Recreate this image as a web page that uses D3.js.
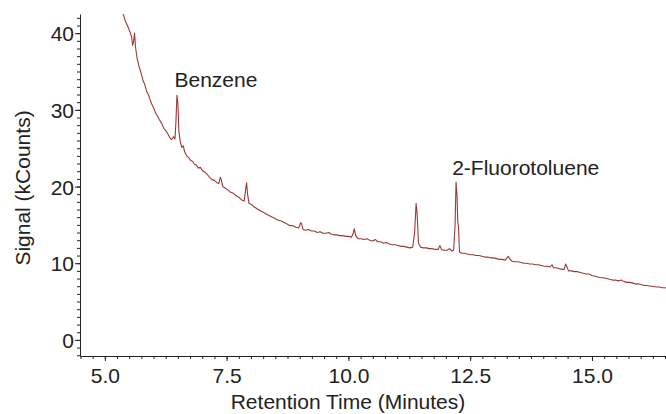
<!DOCTYPE html>
<html>
<head>
<meta charset="utf-8">
<script src="https://cdn.jsdelivr.net/npm/d3@7"></script>
<style>
  body { margin: 0; background: #fff; }
  text { font-family: "Liberation Sans", Arial, sans-serif; fill: #222; }
</style>
</head>
<body>
<svg id="chart"></svg>
<script>
// chromatogram trace (minutes, kCounts)
const times = [5.30, 5.37, 5.42, 5.47, 5.52, 5.55, 5.57, 5.59, 5.61, 5.63, 5.66, 5.70, 5.74, 5.78, 5.82, 5.86, 5.90, 5.93, 5.96, 6.00,
  6.04, 6.08, 6.12, 6.17, 6.21, 6.25, 6.29, 6.33, 6.37, 6.41, 6.44, 6.46, 6.48, 6.50, 6.52, 6.55, 6.58, 6.61, 6.64, 6.68,
  6.72, 6.76, 6.80, 6.84, 6.88, 6.92, 6.96, 7.00, 7.05, 7.10, 7.15, 7.20, 7.25, 7.30, 7.34, 7.37, 7.39, 7.42, 7.47, 7.52,
  7.57, 7.62, 7.67, 7.72, 7.77, 7.82, 7.86, 7.89, 7.91, 7.93, 7.96, 8.00, 8.05, 8.10, 8.15, 8.20, 8.26, 8.32, 8.38, 8.44,
  8.50, 8.56, 8.62, 8.68, 8.74, 8.80, 8.86, 8.92, 8.98, 9.02, 9.04, 9.07, 9.12, 9.18, 9.24, 9.30, 9.36, 9.42, 9.48, 9.54,
  9.60, 9.64, 9.70, 9.76, 9.82, 9.88, 9.94, 10.00, 10.06, 10.10, 10.12, 10.15, 10.20, 10.26, 10.32, 10.38, 10.44, 10.50, 10.55, 10.60,
  10.66, 10.72, 10.78, 10.84, 10.90, 10.96, 11.02, 11.08, 11.14, 11.20, 11.26, 11.32, 11.36, 11.39, 11.41, 11.44, 11.48, 11.54, 11.60, 11.66,
  11.72, 11.78, 11.84, 11.88, 11.91, 11.96, 12.02, 12.08, 12.12, 12.16, 12.19, 12.21, 12.23, 12.245, 12.26, 12.28, 12.32, 12.38, 12.44, 12.50,
  12.56, 12.62, 12.68, 12.74, 12.80, 12.86, 12.92, 12.98, 13.04, 13.10, 13.16, 13.22, 13.28, 13.31, 13.35, 13.42, 13.48, 13.54, 13.60, 13.66,
  13.72, 13.78, 13.84, 13.90, 13.96, 14.02, 14.08, 14.14, 14.18, 14.21, 14.26, 14.32, 14.38, 14.43, 14.46, 14.48, 14.52, 14.58, 14.64, 14.70,
  14.76, 14.82, 14.88, 14.94, 15.00, 15.06, 15.12, 15.18, 15.24, 15.30, 15.36, 15.42, 15.48, 15.54, 15.60, 15.66, 15.72, 15.78, 15.84, 15.90,
  15.96, 16.02, 16.08, 16.14, 16.20, 16.26, 16.32, 16.38, 16.44, 16.50, 16.56];
const signal = [44.5, 42.6, 41.6, 40.9, 40.1, 39.5, 38.4, 38.9, 40.0, 38.2, 36.8, 35.7, 34.9, 33.9, 33.3, 32.4, 31.9, 31.3, 30.8, 30.3,
  29.6, 29.2, 28.7, 28.2, 27.6, 27.3, 26.9, 26.4, 26.1, 26.5, 26.2, 28.5, 31.9, 30.8, 27.2, 25.8, 25.1, 25.3, 24.5, 24.0,
  23.8, 23.4, 23.3, 22.9, 22.8, 22.4, 22.5, 22.1, 21.9, 21.6, 21.2, 20.9, 20.8, 20.5, 20.4, 21.2, 20.9, 20.0, 19.8, 19.6,
  19.3, 19.2, 18.9, 18.7, 18.5, 18.2, 18.1, 19.6, 20.5, 19.0, 17.8, 17.7, 17.4, 17.2, 17.0, 16.8, 16.6, 16.4, 16.2, 16.0,
  15.8, 15.6, 15.5, 15.3, 15.1, 14.9, 14.9, 14.7, 14.6, 15.3, 15.1, 14.4, 14.3, 14.4, 14.2, 14.2, 14.0, 14.1, 13.9, 13.9,
  14.0, 13.8, 13.7, 13.7, 13.6, 13.6, 13.5, 13.5, 13.4, 13.9, 14.5, 13.6, 13.2, 13.2, 13.1, 13.2, 13.0, 12.9, 13.1, 12.8,
  12.8, 12.6, 12.7, 12.5, 12.4, 12.4, 12.3, 12.2, 12.2, 12.1, 12.0, 12.1, 14.0, 17.8, 16.5, 12.6, 12.1, 12.0, 12.0, 11.9,
  11.9, 11.8, 11.8, 12.3, 11.8, 11.7, 11.7, 11.9, 11.6, 11.7, 15.0, 20.6, 18.8, 15.4, 14.8, 11.5, 11.3, 11.3, 11.2, 11.1,
  11.1, 11.0, 11.0, 10.9, 10.8, 10.8, 10.7, 10.7, 10.6, 10.5, 10.5, 10.4, 10.9, 10.6, 10.3, 10.2, 10.2, 10.1, 10.0, 10.0,
  9.9, 9.9, 9.8, 9.8, 9.7, 9.6, 9.6, 9.5, 9.8, 9.4, 9.4, 9.3, 9.2, 9.2, 9.9, 9.6, 9.0, 9.0, 8.9, 8.9,
  8.8, 8.7, 8.6, 8.6, 8.4, 8.3, 8.2, 8.1, 8.1, 8.0, 7.9, 7.8, 7.8, 7.7, 7.8, 7.6, 7.5, 7.5, 7.4, 7.3,
  7.3, 7.2, 7.1, 7.1, 7.0, 7.0, 6.9, 6.9, 6.8, 6.8, 6.7];

const xTicks = [5.0, 7.5, 10.0, 12.5, 15.0];
const yTicks = [0, 10, 20, 30, 40];
const peakNames = ["Benzene", "2-Fluorotoluene"];
const peakLabelAt = [[6.43, 33.0], [12.13, 21.5]];

// layout
const width = 666;
const height = 414;
const margin = {top: 14, right: 0, bottom: 58, left: 80};
const innerW = width - margin.left - margin.right;
const innerH = height - margin.top - margin.bottom;

const svg = d3.select('#chart')
    .attr('width', width)
    .attr('height', height);

const g = svg.append('g')
    .attr('transform', 'translate(' + margin.left + ',' + margin.top + ')');

const x = d3.scaleLinear().domain([4.49, 16.52]).range([0, innerW]);
const y = d3.scaleLinear().domain([-2.1, 42.5]).range([innerH, 0]);

g.append('clipPath').attr('id', 'plot-clip')
  .append('rect').attr('width', innerW).attr('height', innerH);

// minor ticks
const xMinor = d3.range(4.5, 16.6, 0.25);
const yMinor = d3.range(-2, 43, 1);

g.append('g')
    .attr('transform', 'translate(0,' + innerH + ')')
    .call(d3.axisBottom(x).tickValues(xMinor).tickSize(3).tickFormat(''))
    .call(a => a.select('.domain').remove());
g.append('g')
    .call(d3.axisLeft(y).tickValues(yMinor).tickSize(3).tickFormat(''))
    .call(a => a.select('.domain').remove());

// major axes
const xAxis = g.append('g')
    .attr('transform', 'translate(0,' + innerH + ')')
    .call(d3.axisBottom(x).tickValues(xTicks).tickSize(5).tickSizeOuter(0).tickFormat(d3.format('.1f')));
xAxis.selectAll('text').attr('font-size', 21).attr('dy', 0).attr('y', 27);

const yAxis = g.append('g')
    .call(d3.axisLeft(y).tickValues(yTicks).tickSize(5).tickSizeOuter(0));
yAxis.selectAll('text').attr('font-size', 21).attr('x', -6).attr('dy', '0.36em');

svg.selectAll('.domain, .tick line').attr('stroke', '#222');

// trace
const line = d3.line()
    .x((d, i) => x(times[i]))
    .y(d => y(d));

g.append('path')
    .datum(signal)
    .attr('clip-path', 'url(#plot-clip)')
    .attr('fill', 'none')
    .attr('stroke', '#9e3838')
    .attr('stroke-width', 1.1)
    .attr('stroke-linejoin', 'round')
    .attr('d', line);

// peak labels
g.selectAll('.peak')
    .data(peakNames)
    .enter()
    .append('text')
    .attr('class', 'peak')
    .attr('x', (d, i) => x(peakLabelAt[i][0]))
    .attr('y', (d, i) => y(peakLabelAt[i][1]))
    .attr('font-size', 21)
    .text(d => d);

// axis titles
svg.append('text')
    .attr('x', 348)
    .attr('y', 409)
    .attr('text-anchor', 'middle')
    .attr('font-size', 21)
    .text('Retention Time (Minutes)');

svg.append('text')
    .attr('transform', 'translate(30,188) rotate(-90)')
    .attr('text-anchor', 'middle')
    .attr('font-size', 21)
    .text('Signal (kCounts)');
</script>
</body>
</html>
